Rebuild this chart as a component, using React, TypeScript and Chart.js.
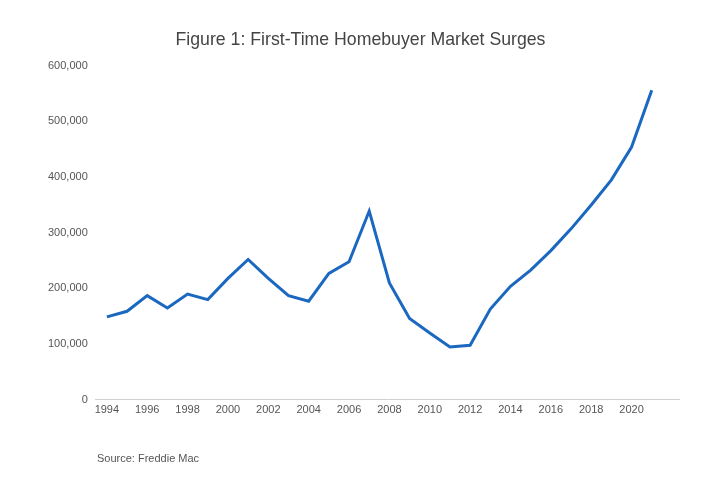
import React, { useEffect, useRef } from "react";
import { Chart, registerables } from "chart.js";

Chart.register(...registerables);

const years = [1994, 1995, 1996, 1997, 1998, 1999, 2000, 2001, 2002, 2003, 2004, 2005, 2006, 2007, 2008, 2009, 2010, 2011, 2012, 2013, 2014, 2015, 2016, 2017, 2018, 2019, 2020, 2021];
const buyers = [149000, 159000, 187000, 165000, 190000, 180000, 218000, 252000, 218000, 187000, 177000, 227000, 248000, 339000, 210000, 146000, 120000, 95000, 98000, 163000, 204000, 233000, 268000, 307000, 350000, 395000, 454000, 556000];
const yTicks = [0, 100000, 200000, 300000, 400000, 500000, 600000];
const title = "Figure 1: First-Time Homebuyer Market Surges";
const source = "Source: Freddie Mac";

const FONT = "Arial, 'Liberation Sans', sans-serif";

export default function App() {
  const ref = useRef<HTMLCanvasElement | null>(null);
  useEffect(() => {
    if (!ref.current) return;
    const chart = new Chart(ref.current, {
      type: "line",
      data: {
        datasets: [
          {
            data: years.map((y, i) => ({ x: y, y: buyers[i] })),
            borderColor: "#1a68c0",
            borderWidth: 3,
            pointRadius: 0,
            tension: 0,
            fill: false,
          },
        ],
      },
      options: {
        animation: false,
        responsive: false,
        layout: { padding: { left: 41, right: 35, top: 0, bottom: 79 } },
        plugins: {
          legend: { display: false },
          tooltip: { enabled: false },
          title: {
            display: true,
            text: title,
            color: "#444",
            font: { family: FONT, size: 17.7, weight: "normal" },
            padding: { top: 29, bottom: 15.5 },
          },
        },
        scales: {
          x: {
            type: "linear",
            min: 1993.4,
            max: 2022.4,
            grid: { display: false, drawTicks: false },
            border: { display: false },
            afterBuildTicks: (scale: any) => {
              scale.ticks = years.filter((y) => y % 2 === 0 && y <= 2020).map((v) => ({ value: v }));
            },
            ticks: {
              autoSkip: false,
              maxRotation: 0,
              padding: 4,
              color: "#555",
              font: { family: FONT, size: 11 },
              callback: (v: any) => String(v),
            },
          },
          y: {
            min: 0,
            max: 600000,
            afterBuildTicks: (scale: any) => {
              scale.ticks = yTicks.map((v) => ({ value: v }));
            },
            grid: {
              drawTicks: false,
              color: (ctx: any) => (ctx.tick && ctx.tick.value === 0 ? "#d0d0d0" : "rgba(0,0,0,0)"),
              lineWidth: 1,
            },
            border: { display: false },
            ticks: {
              padding: 7,
              color: "#555",
              font: { family: FONT, size: 11 },
              callback: (v: any) => Number(v).toLocaleString("en-US"),
            },
          },
        },
      },
    });
    return () => chart.destroy();
  }, []);
  return (
    <div style={{ position: "absolute", left: 0, top: 0, width: 715, height: 500, background: "#fff" }}>
      <canvas ref={ref} width={715} height={500} style={{ width: 715, height: 500, display: "block" }} />
      <div
        style={{
          position: "absolute",
          left: 97,
          top: 452,
          fontFamily: FONT,
          fontSize: 11,
          color: "#555",
          whiteSpace: "nowrap",
        }}
      >
        {source}
      </div>
    </div>
  );
}
